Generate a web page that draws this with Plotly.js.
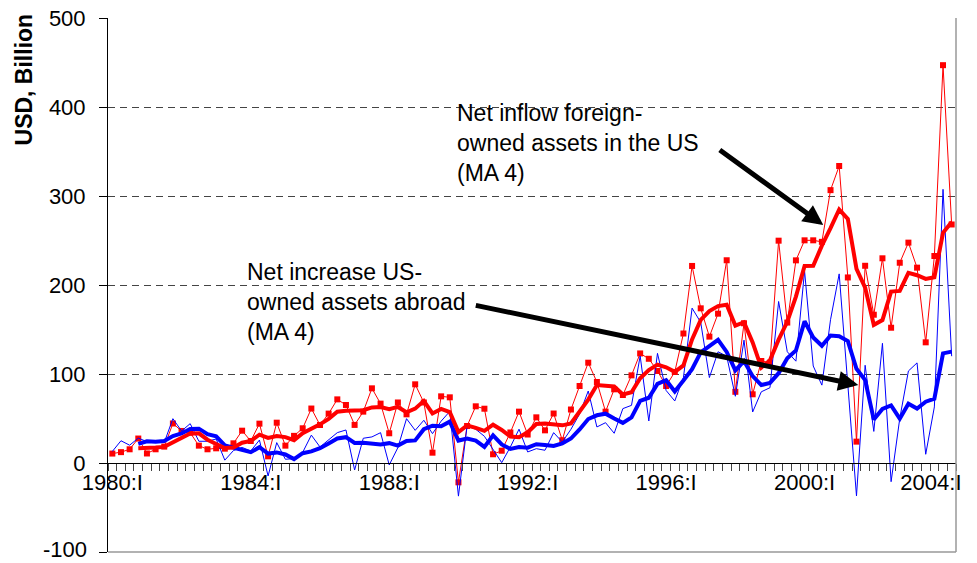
<!DOCTYPE html>
<html>
<head>
<meta charset="utf-8">
<script src="https://cdn.plot.ly/plotly-3.0.1.min.js"></script>
<style>html,body{margin:0;padding:0;background:#fff;}#chart{width:977px;height:563px;}</style>
</head>
<body>
<div id="chart"></div>
<script>
// Quarterly categories 1980:I ... 2004:II
const romans = ['I', 'II', 'III', 'IV'];
const quarters = [];
for (let y = 1980; y <= 2004; y++) for (let q = 0; q < 4; q++) quarters.push(y + ':' + romans[q]);
quarters.length = 98;

// Tick labels shown on the category axis
const tickLabels = ['1980:I', '1984:I', '1988:I', '1992:I', '1996:I', '2000:I', '2004:I'];
// Value-axis ticks
const yTicks = [-100, 0, 100, 200, 300, 400, 500];

// Net inflow foreign-owned assets in the US (quarterly, USD bn)
const foreignInflow = [10.6, 12.2, 15.4, 27.5, 10.7, 15.4, 18.4, 44.4, 36, 34,
  19.5, 15.4, 16.5, 16.1, 22.1, 36.3, 24.7, 44.2, 7.5, 45.3,
  19.5, 30.5, 39, 61.2, 42.7, 55.5, 71.5, 65.2, 42.8, 57.7,
  83.9, 66.7, 33.4, 68, 54.7, 88.4, 68, 11.6, 74.9, 73.8,
  -21.7, 41.6, 63.7, 61, 9.8, 13.8, 34.3, 57.7, 32, 51.3,
  36.7, 55.6, 25.6, 60.1, 86.5, 112.7, 91, 57.7, 82.8, 76.4,
  98.5, 123.1, 117.1, 103.4, 86.5, 102.3, 145.5, 221.4, 173.8, 142,
  167.8, 227.8, 80, 157, 77.2, 114.6, 112.7, 249.8, 157.8, 227.7,
  250.2, 250.2, 248.5, 306.6, 333.7, 208.5, 24, 221.6, 166.6, 230,
  152, 225, 247.6, 219.5, 135.6, 232.6, 447, 268];

// Same, 4-quarter moving average (as drawn)
const foreignInflowMA = [null, null, null, 16.6, 16.6, 17.4, 18.1, 23, 28.5, 33.2,
  33.4, 26.2, 21.4, 16.9, 17.5, 22.8, 24.8, 31.8, 28.2, 30.4,
  29.1, 25.7, 33.6, 38.5, 43.4, 49.6, 57.7, 58.7, 58.8, 59.3,
  62.4, 62.8, 60.4, 63, 57, 61.1, 69.8, 55.7, 60.7, 57.1,
  34.7, 42.2, 39.4, 36.2, 43, 37.1, 29.7, 28.9, 34.5, 43.8,
  44.4, 43.9, 42.3, 44.5, 57, 71.2, 87.6, 87, 86, 77,
  79.5, 95.2, 104.5, 110.6, 107.6, 102.4, 109.6, 138.9, 160.8, 170.7,
  176.3, 177.9, 154.4, 158.2, 135.5, 107.2, 115.4, 138.6, 158.7, 187,
  221.4, 221.5, 244.2, 263.9, 284.8, 274.3, 218.2, 197, 155.2, 160.6,
  192.6, 193.4, 213.7, 211, 206.9, 208.8, 258.6, 270.8];

// Net increase US-owned assets abroad (quarterly, USD bn)
const usAbroad = [13, 25, 20, 28, 24, 24, 23, 49.8, 36, 44.2,
  24.4, 24.4, 27, 3.2, 14, 17.5, 13.5, 25.8, -14.6, 22.9,
  4.2, 4.9, 12, 31.3, 18, 26.6, 34.1, 37.1, -7.9, 27.8,
  29.3, 34.1, -2.2, 17.3, 49.8, 36.7, 48, 33, 47, 58,
  -37.2, 41.6, 37.9, 30, 15, 0.4, 18, 38, 12.4, 16.1,
  14.3, 34.1, 23.6, 37.9, 55, 80.9, 40.5, 45.3, 33.4, 61.1,
  64.8, 120.2, 47.2, 123.2, 81.5, 69.7, 96, 174, 158, 96,
  125, 120, 75, 138, 57.3, 80, 84.6, 181.5, 125, 114.4,
  215.7, 109, 87.5, 161, 212.5, 87, -37, 109.8, 35.5, 134.5,
  -21, 50, 103.4, 112.5, 9.8, 63, 307.5, 120];

// Same, 4-quarter moving average (as drawn)
const usAbroadMA = [null, null, null, 21.5, 24.3, 24, 24.8, 30.2, 33.2, 38.3,
  38.6, 32.3, 30, 19.8, 17.2, 15.4, 12.1, 17.7, 10.6, 11.9,
  9.6, 4.4, 11, 13.1, 16.6, 22, 27.5, 29, 22.5, 22.8,
  21.6, 20.8, 22.3, 19.6, 24.8, 25.4, 38, 41.9, 41.2, 46.5,
  25.2, 27.4, 25.1, 18.1, 31.1, 20.8, 15.9, 17.9, 17.2, 21.1,
  20.2, 19.2, 22, 27.5, 37.7, 49.4, 53.6, 55.4, 50, 45.1,
  51.2, 69.9, 73.3, 88.9, 93, 80.4, 92.6, 105.3, 124.4, 131,
  138.3, 124.8, 104, 114.5, 97.6, 87.6, 90, 100.9, 117.8, 126.4,
  159.2, 141, 131.7, 143.3, 142.5, 137, 105.9, 93.1, 48.8, 60.7,
  64.7, 49.8, 66.7, 61.2, 68.9, 72.2, 123.2, 125.1];

const xs = quarters.map((_, i) => i);
let tickVals = tickLabels.map(l => quarters.indexOf(l));
tickVals[tickVals.length - 1] -= 1.4; // last label nudged inward as in the original

const FONT = '"Liberation Sans", Arial, sans-serif';

const traces = [
  {x: xs, y: foreignInflow, text: quarters, type: 'scatter', mode: 'lines+markers',
   line: {color: '#FF0000', width: 1}, marker: {symbol: 'square', size: 6, color: '#FF0000'}},
  {x: xs, y: usAbroad, text: quarters, type: 'scatter', mode: 'lines',
   line: {color: '#0000FF', width: 1}},
  {x: xs, y: usAbroadMA, text: quarters, type: 'scatter', mode: 'lines',
   line: {color: '#0000FF', width: 4}},
  {x: xs, y: foreignInflowMA, text: quarters, type: 'scatter', mode: 'lines',
   line: {color: '#FF0000', width: 4}}
];

// the lowest value label is written as an annotation so it is not dropped at the frame edge
const yTickText = yTicks.map(v => (v === yTicks[0] ? '' : String(v)));

const layout = {
  width: 977, height: 563,
  margin: {l: 108, r: 21, t: 18, b: 11, pad: 0},
  paper_bgcolor: '#ffffff', plot_bgcolor: '#ffffff',
  showlegend: false, hovermode: false,
  font: {family: FONT, size: 22, color: '#000'},
  xaxis: {
    range: [-0.5, 97.5], anchor: 'free', position: 1 / 6,
    showline: true, linecolor: '#000', linewidth: 1,
    tickmode: 'array', tickvals: tickVals, ticktext: tickLabels,
    ticks: 'outside', ticklen: 0, tickcolor: 'rgba(0,0,0,0)', ticklabelstandoff: 0,
    minor: {tick0: -0.5, dtick: 1, ticks: 'outside', ticklen: 7, tickcolor: '#444', tickwidth: 1, showgrid: false},
    showgrid: false, zeroline: false,
    tickfont: {family: FONT, size: 22, color: '#000'}
  },
  yaxis: {
    range: [-100, 500], tickmode: 'array', tickvals: yTicks, ticktext: yTickText,
    showline: true, linecolor: '#000', linewidth: 1,
    ticks: 'outside', ticklen: 8, tickcolor: '#000', ticklabelstandoff: 9,
    showgrid: true, gridcolor: '#444', griddash: '7px,5px', gridwidth: 1,
    zeroline: false,
    tickfont: {family: FONT, size: 22, color: '#000'}
  },
  shapes: [
    {type: 'line', xref: 'paper', yref: 'paper', x0: 0, x1: 1, y0: 0, y1: 0, line: {color: '#999', width: 1.5}},
    {type: 'line', xref: 'paper', yref: 'paper', x0: 1, x1: 1, y0: 0, y1: 1, line: {color: '#999', width: 1.5}}
  ],
  annotations: [
    {xref: 'paper', yref: 'y', x: -0.0236, y: yTicks[0], yshift: 3, text: String(yTicks[0]), showarrow: false,
     borderpad: 0, xanchor: 'right', yanchor: 'middle', font: {family: FONT, size: 22, color: '#000'}},
    {xref: 'paper', yref: 'paper', x: -0.0991, y: 0.8848, text: '<b>USD, Billion</b>', textangle: -90,
     showarrow: false, xanchor: 'center', yanchor: 'middle', font: {family: FONT, size: 23, color: '#000'}},
    {xref: 'paper', yref: 'paper', x: 0.4092, y: 0.8502, xanchor: 'left', yanchor: 'top', align: 'left',
     text: 'Net inflow foreign-<br>owned assets in the US<br>(MA 4)', showarrow: false,
     font: {family: FONT, size: 23, color: '#000'}},
    {xref: 'paper', yref: 'paper', x: 0.1616, y: 0.5524, xanchor: 'left', yanchor: 'top', align: 'left',
     text: 'Net increase US-<br>owned assets abroad<br>(MA 4)', showarrow: false,
     font: {family: FONT, size: 23, color: '#000'}},
    {xref: 'paper', yref: 'paper', x: 0.8435, y: 0.6124, ax: -105, ay: -76, axref: 'pixel', ayref: 'pixel',
     text: '', showarrow: true, arrowhead: 2, arrowsize: 0.8, arrowwidth: 5, arrowcolor: '#000', standoff: 0},
    {xref: 'paper', yref: 'paper', x: 0.8848, y: 0.3127, ax: -384, ay: -80, axref: 'pixel', ayref: 'pixel',
     text: '', showarrow: true, arrowhead: 2, arrowsize: 0.8, arrowwidth: 5, arrowcolor: '#000', standoff: 0}
  ]
};

Plotly.newPlot('chart', traces, layout, {displayModeBar: false, staticPlot: true});
</script>
</body>
</html>
